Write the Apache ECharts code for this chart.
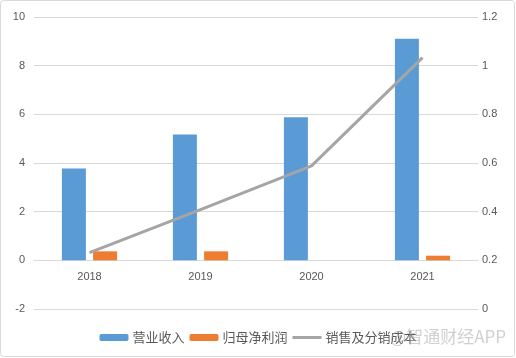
<!DOCTYPE html>
<html><head><meta charset="utf-8">
<script src="https://cdn.jsdelivr.net/npm/echarts@6/dist/echarts.min.js"></script>
<style>html,body{margin:0;padding:0;background:#fff}#c{width:516px;height:358px}</style>
</head><body><div id="c"></div>
<script>
var categories = ['2018', '2019', '2020', '2021'];
var revenue = [3.77, 5.17, 5.88, 9.11];
var netProfit = [0.37, 0.37, 0, 0.19];
var salesCost = [0.232, 0.408, 0.588, 1.033];
var seriesNames = ['营业收入', '归母净利润', '销售及分销成本'];

var chart = echarts.init(document.getElementById('c'));
var labelColor = '#595959';
var font = '"Liberation Sans", "Noto Sans CJK SC", sans-serif';
chart.setOption({
  animation: false,
  textStyle: {fontFamily: font},
  graphic: [
    {type: 'rect', shape: {x: 0.5, y: 0.5, width: 514, height: 356, r: 3}, style: {fill: 'none', stroke: '#d9d9d9', lineWidth: 1}, z: -1},
    {type: 'text', right: 10, top: 328, style: {text: '@智通财经APP', fill: 'rgba(170,170,170,0.55)', font: '17px "Noto Sans CJK SC", sans-serif'}, z: 100}
  ],
  grid: {left: 34, right: 38, top: 17, bottom: 49},
  legend: {
    bottom: 9, left: 'center', itemWidth: 29, itemHeight: 7, itemGap: 5,
    textStyle: {color: labelColor, fontSize: 13, fontFamily: '"Noto Sans CJK SC", sans-serif', padding: [0, 0, 0, -1]},
    data: [
      {name: seriesNames[0]},
      {name: seriesNames[1]},
      {name: seriesNames[2], icon: 'path://M0,0 M0,2 L29,2 L29,5 L0,5 Z M0,7'}
    ]
  },
  xAxis: {
    type: 'category', data: categories,
    offset: -49,
    axisLine: {onZero: false, lineStyle: {color: '#d9d9d9'}},
    axisTick: {show: false},
    axisLabel: {color: labelColor, fontSize: 11, margin: 11}
  },
  yAxis: [
    {type: 'value', min: -2, max: 10, interval: 2,
     axisLine: {show: false}, axisTick: {show: false},
     axisLabel: {color: labelColor, fontSize: 11, margin: 9},
     splitLine: {lineStyle: {color: '#d9d9d9'}}},
    {type: 'value', min: 0, max: 1.2, interval: 0.2,
     axisLine: {show: false}, axisTick: {show: false},
     axisLabel: {color: labelColor, fontSize: 11, margin: 4},
     splitLine: {show: false}}
  ],
  series: [
    {name: seriesNames[0], type: 'bar', data: revenue, barWidth: 24, barGap: '30%', itemStyle: {color: '#5b9bd5'}},
    {name: seriesNames[1], type: 'bar', data: netProfit, barWidth: 24, barGap: '30%', itemStyle: {color: '#ed7d31'}},
    {name: seriesNames[2], type: 'line', yAxisIndex: 1, data: salesCost, symbol: 'none',
     lineStyle: {color: '#a5a5a5', width: 3}, itemStyle: {color: '#a5a5a5'}}
  ]
});
</script></body></html>
